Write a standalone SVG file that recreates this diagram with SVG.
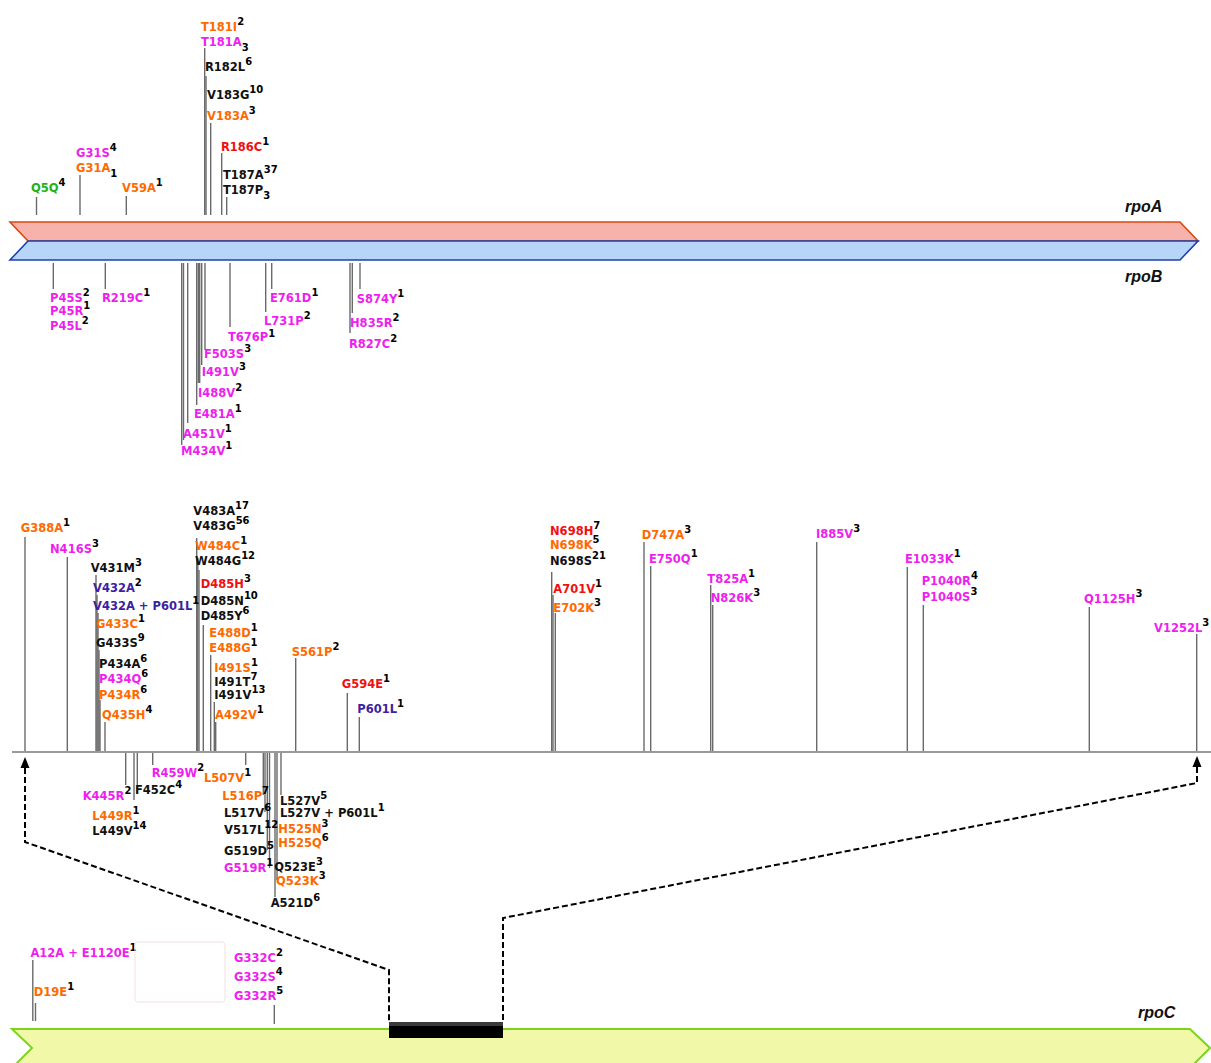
<svg xmlns="http://www.w3.org/2000/svg" width="1211" height="1063" viewBox="0 0 1211 1063">
<style>
.t{font-family:"DejaVu Sans","Liberation Sans",sans-serif;font-weight:bold;font-size:11.5px}
.m{fill:#EE1FEE}.o{fill:#FF6A00}.r{fill:#F01010}.k{fill:#111}.g{fill:#1DB31D}.b{fill:#3D1FA3}
.s{font-size:10px;fill:#000}
.gn{font-family:"Liberation Sans",Arial,sans-serif;font-weight:bold;font-style:italic;font-size:16px;fill:#111}
.tk line{stroke:#6A6A6A;stroke-width:1.4}
.dash{fill:none;stroke:#000;stroke-width:2;stroke-dasharray:6,3}
</style>
<rect width="1211" height="1063" fill="#fff"/>

<g id="rpoA">
<path d="M10,222 L1180,222 L1198,241 L28,241 Z" fill="#F8B2AC" stroke="#D9480F" stroke-width="1.6"/>
<text class="gn" x="1125" y="212">rpoA</text>
</g>
<g id="rpoB">
<path d="M28,241 L1198,241 L1180,260 L10,260 Z" fill="#B7D6F7" stroke="#1E40AF" stroke-width="1.6"/>
<text class="gn" x="1125" y="282">rpoB</text>
</g>

<g id="ticks" class="tk">
<line x1="36.5" y1="197" x2="36.5" y2="215"/>
<line x1="80" y1="175" x2="80" y2="215"/>
<line x1="126.3" y1="196" x2="126.3" y2="215"/>
<line x1="204.7" y1="48" x2="204.7" y2="215"/>
<line x1="206" y1="76" x2="206" y2="215"/>
<line x1="210.7" y1="123" x2="210.7" y2="215"/>
<line x1="221.7" y1="153" x2="221.7" y2="215"/>
<line x1="226.7" y1="197" x2="226.7" y2="215"/>
<line x1="53.3" y1="263" x2="53.3" y2="289"/>
<line x1="105.3" y1="263" x2="105.3" y2="289"/>
<line x1="181.7" y1="263" x2="181.7" y2="445"/>
<line x1="183.5" y1="263" x2="183.5" y2="440"/>
<line x1="187.7" y1="263" x2="187.7" y2="423"/>
<line x1="196.7" y1="263" x2="196.7" y2="405"/>
<line x1="198.3" y1="263" x2="198.3" y2="383"/>
<line x1="199.7" y1="263" x2="199.7" y2="383"/>
<line x1="201.7" y1="263" x2="201.7" y2="365"/>
<line x1="205" y1="263" x2="205" y2="350"/>
<line x1="230" y1="263" x2="230" y2="327"/>
<line x1="265.7" y1="263" x2="265.7" y2="312"/>
<line x1="271.7" y1="263" x2="271.7" y2="289"/>
<line x1="350" y1="263" x2="350" y2="333"/>
<line x1="352.3" y1="263" x2="352.3" y2="313"/>
<line x1="360" y1="263" x2="360" y2="289"/>
<line x1="25" y1="537" x2="25" y2="751"/>
<line x1="67.3" y1="557" x2="67.3" y2="751"/>
<line x1="96" y1="575" x2="96" y2="751"/>
<line x1="97" y1="595" x2="97" y2="751"/>
<line x1="98" y1="613" x2="98" y2="751"/>
<line x1="99" y1="650" x2="99" y2="751"/>
<line x1="100" y1="700" x2="100" y2="751"/>
<line x1="105" y1="722" x2="105" y2="751"/>
<line x1="196.7" y1="538" x2="196.7" y2="751"/>
<line x1="197.8" y1="558" x2="197.8" y2="751"/>
<line x1="199" y1="570" x2="199" y2="751"/>
<line x1="203.3" y1="625" x2="203.3" y2="751"/>
<line x1="210.7" y1="655" x2="210.7" y2="751"/>
<line x1="214.3" y1="702" x2="214.3" y2="751"/>
<line x1="215.7" y1="722" x2="215.7" y2="751"/>
<line x1="295.7" y1="658" x2="295.7" y2="751"/>
<line x1="347.3" y1="693" x2="347.3" y2="751"/>
<line x1="359.3" y1="717" x2="359.3" y2="751"/>
<line x1="551.7" y1="572" x2="551.7" y2="751"/>
<line x1="553" y1="595" x2="553" y2="751"/>
<line x1="555.3" y1="613" x2="555.3" y2="751"/>
<line x1="644" y1="542" x2="644" y2="751"/>
<line x1="650.7" y1="566" x2="650.7" y2="751"/>
<line x1="710.7" y1="585" x2="710.7" y2="751"/>
<line x1="712.7" y1="605" x2="712.7" y2="751"/>
<line x1="816.7" y1="542" x2="816.7" y2="751"/>
<line x1="907.3" y1="567" x2="907.3" y2="751"/>
<line x1="923.3" y1="605" x2="923.3" y2="751"/>
<line x1="1089.3" y1="607" x2="1089.3" y2="751"/>
<line x1="1196.7" y1="634" x2="1196.7" y2="751"/>
<line x1="125.7" y1="753" x2="125.7" y2="785"/>
<line x1="134" y1="753" x2="134" y2="800"/>
<line x1="137.3" y1="753" x2="137.3" y2="793"/>
<line x1="152.7" y1="753" x2="152.7" y2="765"/>
<line x1="245.7" y1="753" x2="245.7" y2="765"/>
<line x1="263.3" y1="753" x2="263.3" y2="795"/>
<line x1="265" y1="753" x2="265" y2="812"/>
<line x1="267.3" y1="753" x2="267.3" y2="850"/>
<line x1="269.5" y1="753" x2="269.5" y2="868"/>
<line x1="275" y1="753" x2="275" y2="897"/>
<line x1="277" y1="753" x2="277" y2="880"/>
<line x1="281" y1="753" x2="281" y2="795"/>
<line x1="32.8" y1="960" x2="32.8" y2="1021"/>
<line x1="35.5" y1="1003" x2="35.5" y2="1021"/>
<line x1="274.3" y1="1005" x2="274.3" y2="1024"/>
</g>

<g id="axis">
<line x1="12" y1="752" x2="1211" y2="752" stroke="#9A9A9A" stroke-width="2"/>
</g>

<g id="rpoA-labels">
<text x="201" y="31" class="t o">T181I<tspan class="s" dy="-6">2</tspan></text>
<text x="201" y="46" class="t m">T181A<tspan class="s" dy="5">3</tspan></text>
<text x="205" y="71" class="t k">R182L<tspan class="s" dy="-6">6</tspan></text>
<text x="207" y="99" class="t k">V183G<tspan class="s" dy="-6">10</tspan></text>
<text x="207" y="120" class="t o">V183A<tspan class="s" dy="-6">3</tspan></text>
<text x="221" y="151" class="t r">R186C<tspan class="s" dy="-6">1</tspan></text>
<text x="223" y="179" class="t k">T187A<tspan class="s" dy="-6">37</tspan></text>
<text x="223" y="194" class="t k">T187P<tspan class="s" dy="5">3</tspan></text>
<text x="76" y="157" class="t m">G31S<tspan class="s" dy="-6">4</tspan></text>
<text x="76" y="172" class="t o">G31A<tspan class="s" dy="5">1</tspan></text>
<text x="31" y="192" class="t g">Q5Q<tspan class="s" dy="-6">4</tspan></text>
<text x="122" y="192" class="t o">V59A<tspan class="s" dy="-6">1</tspan></text>
</g>

<g id="rpoB-labels">
<text x="50" y="302" class="t m">P45S<tspan class="s" dy="-6">2</tspan></text>
<text x="50" y="315" class="t m">P45R<tspan class="s" dy="-6">1</tspan></text>
<text x="50" y="330" class="t m">P45L<tspan class="s" dy="-6">2</tspan></text>
<text x="102" y="302" class="t m">R219C<tspan class="s" dy="-6">1</tspan></text>
<text x="270" y="302" class="t m">E761D<tspan class="s" dy="-6">1</tspan></text>
<text x="264" y="325" class="t m">L731P<tspan class="s" dy="-6">2</tspan></text>
<text x="228" y="341" class="t m">T676P<tspan class="s" dy="-4">1</tspan></text>
<text x="204" y="358" class="t m">F503S<tspan class="s" dy="-6">3</tspan></text>
<text x="201.7" y="376" class="t m">I491V<tspan class="s" dy="-6">3</tspan></text>
<text x="198" y="397" class="t m">I488V<tspan class="s" dy="-6">2</tspan></text>
<text x="194" y="418" class="t m">E481A<tspan class="s" dy="-6">1</tspan></text>
<text x="183" y="438" class="t m">A451V<tspan class="s" dy="-6">1</tspan></text>
<text x="181" y="455" class="t m">M434V<tspan class="s" dy="-6">1</tspan></text>
<text x="356.7" y="303" class="t m">S874Y<tspan class="s" dy="-6">1</tspan></text>
<text x="350" y="327" class="t m">H835R<tspan class="s" dy="-6">2</tspan></text>
<text x="349" y="348" class="t m">R827C<tspan class="s" dy="-6">2</tspan></text>
</g>

<g id="rpoB-detail-upper">
<text x="20.7" y="532" class="t o">G388A<tspan class="s" dy="-6">1</tspan></text>
<text x="50" y="553" class="t m">N416S<tspan class="s" dy="-6">3</tspan></text>
<text x="90.7" y="572" class="t k">V431M<tspan class="s" dy="-6">3</tspan></text>
<text x="93" y="592" class="t b">V432A<tspan class="s" dy="-6">2</tspan></text>
<text x="93" y="610" class="t b">V432A + P601L<tspan class="s" dy="-6">1</tspan></text>
<text x="96" y="628" class="t o">G433C<tspan class="s" dy="-6">1</tspan></text>
<text x="96" y="647" class="t k">G433S<tspan class="s" dy="-6">9</tspan></text>
<text x="99" y="668" class="t k">P434A<tspan class="s" dy="-6">6</tspan></text>
<text x="99" y="683" class="t m">P434Q<tspan class="s" dy="-6">6</tspan></text>
<text x="99" y="699" class="t o">P434R<tspan class="s" dy="-6">6</tspan></text>
<text x="102" y="719" class="t o">Q435H<tspan class="s" dy="-6">4</tspan></text>
<text x="193.3" y="515" class="t k">V483A<tspan class="s" dy="-6">17</tspan></text>
<text x="193.3" y="530" class="t k">V483G<tspan class="s" dy="-6">56</tspan></text>
<text x="195" y="550" class="t o">W484C<tspan class="s" dy="-6">1</tspan></text>
<text x="195" y="565" class="t k">W484G<tspan class="s" dy="-6">12</tspan></text>
<text x="200.7" y="588" class="t r">D485H<tspan class="s" dy="-6">3</tspan></text>
<text x="200.7" y="605" class="t k">D485N<tspan class="s" dy="-6">10</tspan></text>
<text x="200.7" y="620" class="t k">D485Y<tspan class="s" dy="-6">6</tspan></text>
<text x="209.3" y="637" class="t o">E488D<tspan class="s" dy="-6">1</tspan></text>
<text x="209.3" y="652" class="t o">E488G<tspan class="s" dy="-6">1</tspan></text>
<text x="214.3" y="672" class="t o">I491S<tspan class="s" dy="-6">1</tspan></text>
<text x="214.3" y="686" class="t k">I491T<tspan class="s" dy="-6">7</tspan></text>
<text x="214.3" y="699" class="t k">I491V<tspan class="s" dy="-6">13</tspan></text>
<text x="215" y="719" class="t o">A492V<tspan class="s" dy="-6">1</tspan></text>
<text x="291.7" y="656" class="t o">S561P<tspan class="s" dy="-6">2</tspan></text>
<text x="341.7" y="688" class="t r">G594E<tspan class="s" dy="-6">1</tspan></text>
<text x="357.3" y="713" class="t b">P601L<tspan class="s" dy="-6">1</tspan></text>
<text x="550" y="535" class="t r">N698H<tspan class="s" dy="-6">7</tspan></text>
<text x="550" y="549" class="t o">N698K<tspan class="s" dy="-6">5</tspan></text>
<text x="550" y="565" class="t k">N698S<tspan class="s" dy="-6">21</tspan></text>
<text x="553.3" y="593" class="t r">A701V<tspan class="s" dy="-6">1</tspan></text>
<text x="553.3" y="612" class="t o">E702K<tspan class="s" dy="-6">3</tspan></text>
<text x="641.7" y="539" class="t o">D747A<tspan class="s" dy="-6">3</tspan></text>
<text x="649" y="563" class="t m">E750Q<tspan class="s" dy="-6">1</tspan></text>
<text x="707.3" y="583" class="t m">T825A<tspan class="s" dy="-6">1</tspan></text>
<text x="710.7" y="602" class="t m">N826K<tspan class="s" dy="-6">3</tspan></text>
<text x="816" y="538" class="t m">I885V<tspan class="s" dy="-6">3</tspan></text>
<text x="905" y="563" class="t m">E1033K<tspan class="s" dy="-6">1</tspan></text>
<text x="921.7" y="585" class="t m">P1040R<tspan class="s" dy="-6">4</tspan></text>
<text x="921.7" y="601" class="t m">P1040S<tspan class="s" dy="-6">3</tspan></text>
<text x="1084" y="603" class="t m">Q1125H<tspan class="s" dy="-6">3</tspan></text>
<text x="1154" y="632" class="t m">V1252L<tspan class="s" dy="-6">3</tspan></text>
</g>

<g id="rpoB-detail-lower">
<text x="82.7" y="800" class="t m">K445R<tspan class="s" dy="-6">2</tspan></text>
<text x="135" y="794" class="t k">F452C<tspan class="s" dy="-6">4</tspan></text>
<text x="151.7" y="777" class="t m">R459W<tspan class="s" dy="-6">2</tspan></text>
<text x="92.3" y="820" class="t o">L449R<tspan class="s" dy="-6">1</tspan></text>
<text x="92.3" y="835" class="t k">L449V<tspan class="s" dy="-6">14</tspan></text>
<text x="204" y="782" class="t o">L507V<tspan class="s" dy="-6">1</tspan></text>
<text x="222.3" y="800" class="t o">L516P<tspan class="s" dy="-6">7</tspan></text>
<text x="224" y="817" class="t k">L517V<tspan class="s" dy="-6">6</tspan></text>
<text x="224" y="834" class="t k">V517L<tspan class="s" dy="-6">12</tspan></text>
<text x="224" y="855" class="t k">G519D<tspan class="s" dy="-6">5</tspan></text>
<text x="224" y="872" class="t m">G519R<tspan class="s" dy="-6">1</tspan></text>
<text x="280" y="805" class="t k">L527V<tspan class="s" dy="-6">5</tspan></text>
<text x="280" y="817" class="t k">L527V + P601L<tspan class="s" dy="-6">1</tspan></text>
<text x="278.3" y="833" class="t o">H525N<tspan class="s" dy="-6">3</tspan></text>
<text x="278.3" y="847" class="t o">H525Q<tspan class="s" dy="-6">6</tspan></text>
<text x="274.3" y="871" class="t k">Q523E<tspan class="s" dy="-6">3</tspan></text>
<text x="276" y="885" class="t o">Q523K<tspan class="s" dy="-6">3</tspan></text>
<text x="270.7" y="907" class="t k">A521D<tspan class="s" dy="-6">6</tspan></text>
</g>

<g id="rpoC">
<path d="M12,1029 L1190,1029 L1210,1048 L1190,1068 L12,1068 L32,1048 Z" fill="#F1F9A8" stroke="#7ED321" stroke-width="2"/>
<text class="gn" x="1138" y="1018">rpoC</text>
<rect x="389" y="1022" width="114" height="16" fill="#000"/>
<rect x="389" y="1022" width="114" height="4" fill="#3a3a3a"/>
</g>

<g id="rpoC-labels">
<text x="30.4" y="957" class="t m">A12A + E1120E<tspan class="s" dy="-6">1</tspan></text>
<text x="33.8" y="996" class="t o">D19E<tspan class="s" dy="-6">1</tspan></text>
<text x="234" y="962" class="t m">G332C<tspan class="s" dy="-6">2</tspan></text>
<text x="234" y="981" class="t m">G332S<tspan class="s" dy="-6">4</tspan></text>
<text x="234" y="1000" class="t m">G332R<tspan class="s" dy="-6">5</tspan></text>
<rect x="135" y="942" width="90" height="60" rx="3" fill="none" stroke="#F2E2E2" stroke-width="1"/>
</g>

<g id="connectors">
<path class="dash" d="M25,768 L25,842 L389,970 L389,1022"/>
<path class="dash" d="M1197,767 L1197,783 L503,918 L503,1022"/>
<path d="M25,757 L20.5,768 L29.5,768 Z" fill="#000"/>
<path d="M1197,756 L1192.5,767 L1201.5,767 Z" fill="#000"/>
</g>
</svg>
